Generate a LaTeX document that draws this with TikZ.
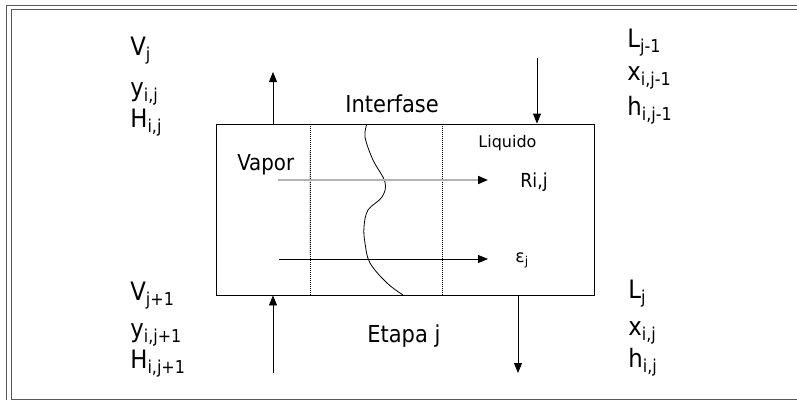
\documentclass[tikz,border=0pt]{standalone}
\usepackage{fontspec}
\setmainfont{DejaVu Sans Condensed}
\newfontfamily\liqfont{DejaVu Sans}
\usepackage{tikz}
\usetikzlibrary{positioning,arrows.meta}
\newcommand{\ssub}[1]{\textsubscript{#1}}

\begin{document}
\begin{tikzpicture}[x=0.75pt, y=-0.75pt, line width=0.6pt,
  every node/.style={inner sep=0pt, font=\fontsize{19}{20}\selectfont},
  flecha/.style={-{Triangle[length=7.5pt,width=6pt,color=black]}}]
  \useasboundingbox (0,0) rectangle (797,400);
  % frame
  \draw[gray!70!black] (6,5) -- (797,5);
  \draw[gray!70!black] (11,9) -- (797,9);
  \draw[gray!70!black] (6,5) -- (6,400);
  \draw[gray!70!black] (11,9) -- (11,399) -- (797,399);
  % stage
  \node[draw, minimum width=283.5pt, minimum height=128.25pt] (etapa) at (405,209.5) {};
  \coordinate (d1) at (310,0);
  \coordinate (d2) at (442,0);
  \draw[gray!25, line width=1.5pt] (310,150) -- (310,255);
  \draw[line width=0.5pt, dash pattern=on 0.6pt off 0.9pt] (d1 |- etapa.north) -- (d1 |- etapa.south);
  \draw[line width=0.5pt, dash pattern=on 0.6pt off 0.9pt] (d2 |- etapa.north) -- (d2 |- etapa.south);
  % interface
  \draw plot[smooth, tension=0.6] coordinates {(367,124) (365,137) (373,160)
    (385,182) (382,197) (368,210) (364,227) (365,243) (370,263) (387,283) (403,295)};
  % streams
  \coordinate (vout) at (273,72);
  \coordinate (lin) at (537,58);
  \coordinate (vin) at (273,373);
  \coordinate (lout) at (518,373);
  \draw[flecha] (vout |- etapa.north) -- (vout);
  \draw[flecha] (lin) -- (lin |- etapa.north);
  \draw[flecha] (vin) -- (vin |- etapa.south);
  \draw[flecha] (lout |- etapa.south) -- (lout);
  % transfer
  \coordinate (r0) at (278,180);
  \coordinate (r1) at (488,180);
  \coordinate (e0) at (279,259);
  \coordinate (e1) at (488,259);
  \draw[flecha, gray!60, line width=1.4pt] (r0) -- (r1);
  \draw[flecha] (e0) -- (e1);
  % labels
  \node[anchor=base west] (Vj) at (130,55) {V\ssub{j}};
  \node[anchor=base west] (yij) at (130,96) {y\ssub{i,j}};
  \node[anchor=base west] (Hij) at (130,127) {H\ssub{i,j}};
  \node[anchor=base west] (Lj1) at (627,47) {L\ssub{j-1}};
  \node[anchor=base west] (xij1) at (627,80) {x\ssub{i,j-1}};
  \node[anchor=base west] (hij1) at (627,115) {h\ssub{i,j-1}};
  \node[anchor=base west] (Vj2) at (130,300) {V\ssub{j+1}};
  \node[anchor=base west] (yij2) at (130,337) {y\ssub{i,j+1}};
  \node[anchor=base west] (Hij2) at (130,368) {H\ssub{i,j+1}};
  \node[anchor=base west] (Lj) at (628,298) {L\ssub{j}};
  \node[anchor=base west] (xij) at (628,335) {x\ssub{i,j}};
  \node[anchor=base west] (hij) at (628,367) {h\ssub{i,j}};
  \node[anchor=base west, font=\fontsize{17.5}{18}\selectfont] (inter) at (345,112) {Interfase};
  \node[anchor=base west, font=\fontsize{17.5}{18}\selectfont] (etq) at (367,342) {Etapa j};
  \node[anchor=base west, font=\fontsize{16.5}{17}\selectfont] (vap) at (237,170) {Vapor};
  \node[anchor=base west, font=\liqfont\fontsize{12}{13}\selectfont] (liq) at (478,147) {Liquido};
  \node[anchor=base west, font=\fontsize{14.5}{15}\selectfont] (Rij) at (520,187) {Ri,j};
  \node[anchor=base west, font=\liqfont\fontsize{13}{14}\selectfont] (ej) at (515,262) {ε\ssub{j}};
\end{tikzpicture}
\end{document}
